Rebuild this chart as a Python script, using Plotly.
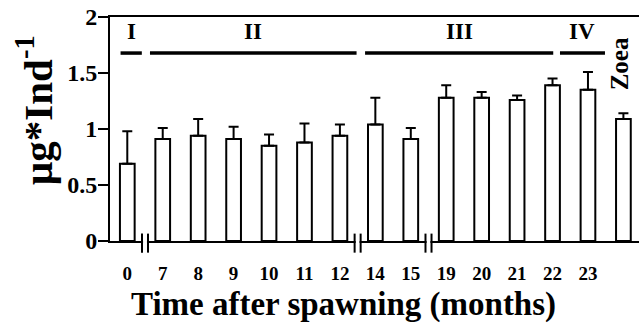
import plotly.graph_objects as go

# ---- data ----
categories = ["0", "7", "8", "9", "10", "11", "12", "14", "15", "19", "20", "21", "22", "23", "Zoea"]
tick_labels = ["0", "7", "8", "9", "10", "11", "12", "14", "15", "19", "20", "21", "22", "23", ""]
values = [0.69, 0.91, 0.94, 0.91, 0.85, 0.88, 0.94, 1.04, 0.91, 1.28, 1.28, 1.26, 1.39, 1.35, 1.09]
errors = [0.29, 0.10, 0.15, 0.11, 0.10, 0.17, 0.10, 0.24, 0.10, 0.11, 0.05, 0.04, 0.06, 0.16, 0.05]
y_ticks = [0, 0.5, 1, 1.5, 2]
y_tick_labels = ["0", "0.5", "1", "1.5", "2"]
group_labels = ["I", "II", "III", "IV"]
group_first = ["0", "7", "14", "23"]
group_last = ["0", "12", "22", "23"]
breaks_after = ["0", "12", "15"]
side_label = "Zoea"

# ---- style ----
FONT = "Liberation Serif"
group_pad = [(0.19, 0.41), (0.36, 0.47), (0.29, 0.02), (0.79, 0.48)]
group_line_y = 1.678
group_label_y = 1.875
x_idx = list(range(len(categories)))

fig = go.Figure()
fig.add_trace(go.Bar(
    x=x_idx, y=values, width=0.415,
    marker=dict(color="white", line=dict(color="black", width=2)),
    error_y=dict(type="data", array=errors, arrayminus=[0] * len(errors),
                 symmetric=False, color="black", thickness=2, width=5),
    showlegend=False,
))

shapes = []
annotations = []
# group lines and labels
for lab, f, l, (pl, pr) in zip(group_labels, group_first, group_last, group_pad):
    x0 = categories.index(f) - pl
    x1 = categories.index(l) + pr
    shapes.append(dict(type="line", xref="x", yref="y", x0=x0, x1=x1,
                       y0=group_line_y, y1=group_line_y,
                       line=dict(color="black", width=3.5)))
    annotations.append(dict(x=(x0 + x1) / 2, y=group_label_y, xref="x", yref="y",
                            text=lab, showarrow=False,
                            font=dict(family=FONT, size=23, color="black", weight=700)))
# Zoea label
annotations.append(dict(x=categories.index(side_label) - 0.1, y=1.585, xref="x", yref="y",
                        text=side_label, showarrow=False, textangle=-90,
                        font=dict(family=FONT, size=25, color="black", weight=700)))
# axis breaks
half = 0.085
for b in breaks_after:
    c = categories.index(b) + 0.5
    shapes.append(dict(type="rect", xref="x", yref="paper", x0=c - half + 0.03, x1=c + half - 0.03,
                       y0=-0.02, y1=0.02, fillcolor="white", line=dict(width=0), layer="above"))
    for xx in (c - half, c + half):
        shapes.append(dict(type="line", xref="x", yref="paper", x0=xx, x1=xx,
                           y0=-0.052, y1=0.033, line=dict(color="black", width=2), layer="above"))

# axis titles
annotations.append(dict(x=-0.142, y=0.583, xref="paper", yref="paper",
                        text="µg*Ind<sup>-1</sup>", showarrow=False, textangle=-90,
                        xanchor="center", yanchor="middle",
                        font=dict(family=FONT, size=41, color="black", weight=700)))
annotations.append(dict(x=0.442, y=-0.285, xref="paper", yref="paper",
                        text="Time after spawning (months)", showarrow=False,
                        xanchor="center", yanchor="middle",
                        font=dict(family=FONT, size=33, color="black", weight=700)))

fig.update_layout(
    width=639, height=332, autosize=False,
    margin=dict(l=110, r=0, t=17, b=91, pad=0),
    paper_bgcolor="white", plot_bgcolor="white",
    font=dict(family=FONT, color="black"),
    shapes=shapes, annotations=annotations,
    xaxis=dict(range=[-0.488, 14.44], tickvals=x_idx, ticktext=tick_labels,
               showline=True, linecolor="black", linewidth=2, mirror=True,
               showgrid=False, zeroline=False, ticks="",
               ticklabelstandoff=14,
               tickfont=dict(family=FONT, size=19, color="black", weight=700)),
    yaxis=dict(range=[0, 2], tickvals=y_ticks, ticktext=y_tick_labels,
               showline=True, linecolor="black", linewidth=2,
               showgrid=False, zeroline=False, ticks="outside", ticklen=10,
               tickwidth=2, tickcolor="black", ticklabelstandoff=-4,
               tickfont=dict(family=FONT, size=24, color="black", weight=700)),
)

fig.write_html("out.html")
